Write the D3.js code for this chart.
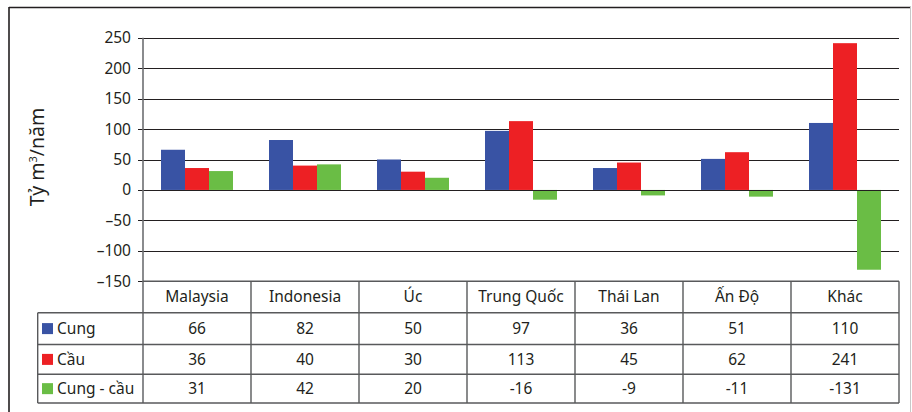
<!DOCTYPE html>
<html>
<head>
<meta charset="utf-8">
<script src="https://cdn.jsdelivr.net/npm/d3@7"></script>
<style>
  html, body { margin: 0; padding: 0; background: #fff; }
  svg { display: block; }
  text { font-family: "Noto Sans", "Open Sans", sans-serif; fill: #231f20; }
</style>
</head>
<body>
<svg id="chart" width="912" height="412"></svg>
<script>
const categories = ["Malaysia", "Indonesia", "Úc", "Trung Quốc", "Thái Lan", "Ấn Độ", "Khác"];
const seriesNames = ["Cung", "Cầu", "Cung - cầu"];
const cung = [66, 82, 50, 97, 36, 51, 110];
const cau = [36, 40, 30, 113, 45, 62, 241];
const chenhLech = [31, 42, 20, -16, -9, -11, -131];
const yTicks = [-150, -100, -50, 0, 50, 100, 150, 200, 250];
const colors = ["#3953a4", "#ed2024", "#6abd45"];

const seriesValues = [cung, cau, chenhLech];

const svg = d3.select("#chart");

// outer frame
svg.append("line").attr("x1", 9).attr("x2", 911).attr("y1", 7.5).attr("y2", 7.5)
  .attr("stroke", "#231f20").attr("stroke-width", 1.6);
svg.append("line").attr("x1", 9).attr("x2", 9).attr("y1", 7).attr("y2", 412)
  .attr("stroke", "#231f20").attr("stroke-width", 1.6);
svg.append("line").attr("x1", 910.5).attr("x2", 910.5).attr("y1", 7).attr("y2", 412)
  .attr("stroke", "#c8c8c8").attr("stroke-width", 1);

const plotL = 143, plotR = 899;
const y = d3.scaleLinear().domain([-150, 250]).range([281.3, 37.7]);
const x = d3.scaleBand().domain(categories).range([plotL, plotR]).paddingInner(0).paddingOuter(0);
const xInner = d3.scaleBand().domain(seriesNames).range([0, x.bandwidth()]).paddingInner(0).paddingOuter(0.75);

// gridlines
svg.append("g").selectAll("line").data(yTicks).join("line")
  .attr("x1", plotL - 5).attr("x2", plotR)
  .attr("y1", d => Math.round(y(d)) + 0.5).attr("y2", d => Math.round(y(d)) + 0.5)
  .attr("stroke", "#231f20").attr("stroke-width", 1.1);

// y axis labels
const yAxis = d3.axisLeft(y).tickValues(yTicks).tickSize(0).tickPadding(0)
  .tickFormat(d => d < 0 ? "\u2013" + Math.abs(d) : d);
const gy = svg.append("g").attr("transform", `translate(${plotL - 12},0)`).call(yAxis);
gy.select(".domain").remove();
gy.selectAll("text").style("font-size", "15.5px").attr("fill", "#231f20")
  .style("font-family", '"Noto Sans", sans-serif');

// bars
const groups = svg.append("g").selectAll("g").data(categories).join("g")
  .attr("transform", d => `translate(${x(d)},0)`);
groups.selectAll("rect").data((c, i) => seriesNames.map((s, j) => ({ s, v: seriesValues[j][i], j })))
  .join("rect")
  .attr("x", d => xInner(d.s))
  .attr("width", xInner.bandwidth())
  .attr("y", d => y(Math.max(0, d.v)))
  .attr("height", d => Math.abs(y(d.v) - y(0)))
  .attr("fill", d => colors[d.j]);

// zero line over bars
svg.append("line").attr("x1", plotL - 5).attr("x2", plotR)
  .attr("y1", Math.round(y(0)) + 0.5).attr("y2", Math.round(y(0)) + 0.5)
  .attr("stroke", "#231f20").attr("stroke-width", 1.2);

// y axis line
svg.append("line").attr("x1", plotL).attr("x2", plotL).attr("y1", y(250)).attr("y2", 403)
  .attr("stroke", "#6d6e71").attr("stroke-width", 1.6);

// y label
svg.append("text")
  .attr("transform", "translate(44,157) rotate(-90)")
  .attr("text-anchor", "middle")
  .style("font-size", "19.5px")
  .html('Tỷ m<tspan dy="-7" style="font-size:11px">3</tspan><tspan dy="7">/năm</tspan>');

// data table
const headTop = 281.3, rowTops = [312.7, 344.5, 374.3], tableBottom = 403;
const legendL = 37.7;
const tbl = svg.append("g");
const lineColor = "#58595b";
// horizontal lines
[[plotL, headTop], [legendL, rowTops[0]], [legendL, rowTops[1]], [legendL, rowTops[2]], [legendL, tableBottom]]
  .forEach(([x0, yy]) => {
    tbl.append("line").attr("x1", x0).attr("x2", plotR).attr("y1", yy).attr("y2", yy)
      .attr("stroke", lineColor).attr("stroke-width", 1.4);
  });
// vertical lines
tbl.append("line").attr("x1", legendL).attr("x2", legendL).attr("y1", rowTops[0]).attr("y2", tableBottom)
  .attr("stroke", lineColor).attr("stroke-width", 1.4);
categories.forEach(c => {
  tbl.append("line").attr("x1", x(c) + x.bandwidth()).attr("x2", x(c) + x.bandwidth())
    .attr("y1", headTop).attr("y2", tableBottom)
    .attr("stroke", lineColor).attr("stroke-width", 1.4);
});
// header text
tbl.selectAll("text.head").data(categories).join("text").attr("class", "head")
  .attr("x", d => x(d) + x.bandwidth() / 2)
  .attr("y", (headTop + rowTops[0]) / 2)
  .attr("dy", "0.35em").attr("text-anchor", "middle")
  .style("font-size", "15.5px").text(d => d);
// rows
const rowBounds = [[rowTops[0], rowTops[1]], [rowTops[1], rowTops[2]], [rowTops[2], tableBottom]];
seriesNames.forEach((s, j) => {
  const cy = (rowBounds[j][0] + rowBounds[j][1]) / 2;
  tbl.append("rect").attr("x", 42).attr("y", cy - 5.5).attr("width", 11).attr("height", 11)
    .attr("fill", colors[j]);
  tbl.append("text").attr("x", 57).attr("y", cy).attr("dy", "0.35em")
    .style("font-size", "15.5px").text(s);
  tbl.selectAll(null).data(categories).join("text")
    .attr("x", d => x(d) + x.bandwidth() / 2)
    .attr("y", cy).attr("dy", "0.35em").attr("text-anchor", "middle")
    .style("font-size", "15.5px")
    .text((d, i) => {
      const v = seriesValues[j][i];
      return v < 0 ? "-" + Math.abs(v) : v;
    });
});
</script>
</body>
</html>
